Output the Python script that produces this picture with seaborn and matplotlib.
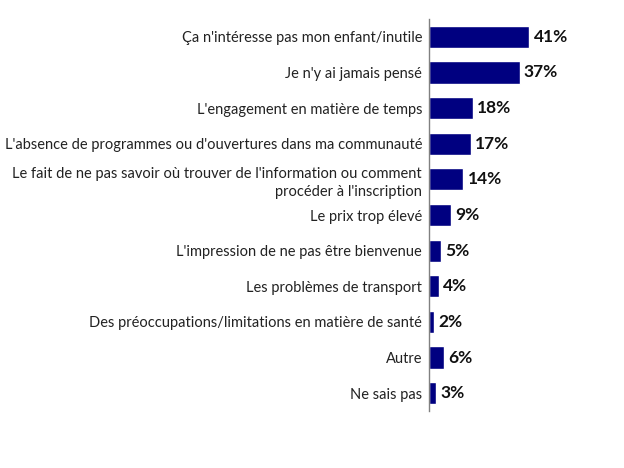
import matplotlib
matplotlib.use("Agg")
import matplotlib.pyplot as plt
import seaborn as sns
import pandas as pd

categories = [
    "Ça n'intéresse pas mon enfant/inutile",
    "Je n'y ai jamais pensé",
    "L'engagement en matière de temps",
    "L'absence de programmes ou d'ouvertures dans ma communauté",
    "Le fait de ne pas savoir où trouver de l'information ou comment\nprocéder à l'inscription",
    "Le prix trop élevé",
    "L'impression de ne pas être bienvenue",
    "Les problèmes de transport",
    "Des préoccupations/limitations en matière de santé",
    "Autre",
    "Ne sais pas",
]
values = [41, 37, 18, 17, 14, 9, 5, 4, 2, 6, 3]

df = pd.DataFrame({"cat": categories, "val": values})

sns.set_theme(style="white")
plt.rcParams["font.family"] = ["Lato", "DejaVu Sans"]

fig = plt.figure(figsize=(6.24, 4.68), dpi=100)
ax = fig.add_axes([429/624, 1 - 411/468, 191/624, 392/468])
sns.barplot(data=df, x="val", y="cat", color="#000080", saturation=1,
            width=0.62, ax=ax, orient="h")
ax.set_xlim(0, 78)
ax.set_xlabel("")
ax.set_ylabel("")
ax.set_xticks([])
for s in ["top", "right", "bottom"]:
    ax.spines[s].set_visible(False)
ax.spines["left"].set_color("#808080")
ax.spines["left"].set_linewidth(1)
ax.tick_params(axis="y", length=0, pad=5, labelsize=10.5, labelcolor="#222222")
for lab in ax.get_yticklabels():
    lab.set_horizontalalignment("right")
    lab.set_multialignment("right")
    lab.set_linespacing(1.35)
for p, v in zip(ax.patches, values):
    ax.text(p.get_width() + 1.7, p.get_y() + p.get_height() / 2, f"{v}%",
            va="center", ha="left", fontsize=12.5, fontweight="bold", color="#111111")

fig.savefig("out.png", dpi=100)
